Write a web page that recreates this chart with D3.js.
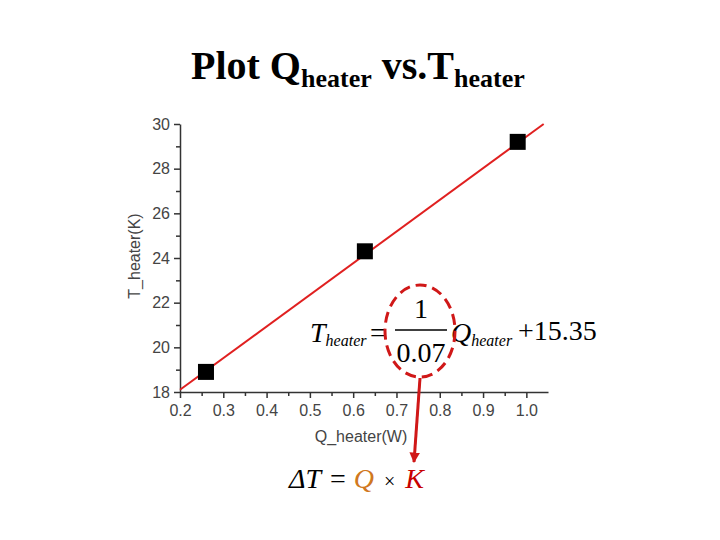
<!DOCTYPE html>
<html>
<head>
<meta charset="utf-8">
<script src="https://cdn.jsdelivr.net/npm/d3@7"></script>
<style>
  body { margin: 0; background: #fff; }
  svg { font-family: "Liberation Serif", "Times New Roman", serif; }
</style>
</head>
<body>
<svg class="myChart" width="720" height="540"></svg>
<script>
// data
const qHeater = [0.26, 0.627, 0.98];
const tHeater = [18.9, 24.3, 29.2];
const fitLineQ = [0.2, 1.04];
const fitLineT = [18.1, 30.0];
const xMajorTicks = [0.2, 0.3, 0.4, 0.5, 0.6, 0.7, 0.8, 0.9, 1.0];
const yMajorTicks = [18, 20, 22, 24, 26, 28, 30];

const svg = d3.select(".myChart");

const x = d3.scaleLinear().domain([0.2, 1.05]).range([180, 548]);
const y = d3.scaleLinear().domain([18, 30]).range([392, 124]);

// title
const title = svg.append("text")
    .attr("x", 191).attr("y", 79)
    .style("font-family", '"Liberation Serif", serif')
    .attr("font-weight", "bold").attr("font-size", 40);
title.append("tspan").text("Plot Q");
title.append("tspan").attr("font-size", 26).attr("dy", 8).text("heater");
title.append("tspan").attr("dy", -8).attr("dx", 10).text("vs.T");
title.append("tspan").attr("font-size", 26).attr("dy", 8).text("heater");

// axes
const axisFont = '"Liberation Sans", Arial, sans-serif';
const xAxis = svg.append("g")
    .attr("transform", "translate(0,392)")
    .call(d3.axisBottom(x).tickValues(xMajorTicks).tickFormat(d3.format(".1f")).tickSize(6).tickSizeOuter(0));
svg.append("g")
    .attr("transform", "translate(0,392)")
    .call(d3.axisBottom(x).tickValues(d3.range(0.25, 1.05, 0.1)).tickFormat("").tickSize(4).tickSizeOuter(0))
    .select(".domain").remove();

const yAxis = svg.append("g")
    .attr("transform", "translate(180,0)")
    .call(d3.axisLeft(y).tickValues(yMajorTicks).tickSize(6).tickSizeOuter(0));
svg.append("g")
    .attr("transform", "translate(180,0)")
    .call(d3.axisLeft(y).tickValues(d3.range(19, 30, 2)).tickFormat("").tickSize(4).tickSizeOuter(0))
    .select(".domain").remove();

svg.selectAll(".tick line, .domain").attr("stroke", "#333").attr("stroke-width", 1.5);
svg.selectAll(".tick text")
    .style("font-family", axisFont).style("font-size", "16px").attr("fill", "#444");
xAxis.selectAll(".tick text").attr("dy", "0.95em");
yAxis.selectAll(".tick text").attr("dx", "-1px");

svg.append("text")
    .attr("x", 361).attr("y", 442)
    .attr("text-anchor", "middle")
    .style("font-family", axisFont).style("font-size", "16px").attr("fill", "#444")
    .text("Q_heater(W)");
svg.append("text")
    .attr("transform", "translate(140,256) rotate(-90)")
    .attr("text-anchor", "middle")
    .style("font-family", axisFont).style("font-size", "16px").attr("fill", "#444")
    .text("T_heater(K)");

// fit line
svg.append("path")
    .datum(d3.zip(fitLineQ, fitLineT))
    .attr("fill", "none")
    .attr("stroke", "#e02020")
    .attr("stroke-width", 2)
    .attr("d", d3.line().x(d => x(d[0])).y(d => y(d[1])));

// data points
svg.selectAll(".pt")
    .data(d3.zip(qHeater, tHeater))
    .join("rect")
    .attr("class", "pt")
    .attr("x", d => x(d[0]) - 8)
    .attr("y", d => y(d[1]) - 8)
    .attr("width", 16).attr("height", 16)
    .attr("fill", "#000");

// equation of the fit
const eq = svg.append("g").attr("font-size", 28);
const tLabel = eq.append("text").attr("x", 310).attr("y", 342).attr("font-style", "italic");
tLabel.append("tspan").text("T");
tLabel.append("tspan").attr("font-size", 16).attr("dy", 4).text("heater");
eq.append("text").attr("x", 370).attr("y", 342).text("=");
eq.append("text").attr("x", 421).attr("y", 318).attr("text-anchor", "middle").text("1");
eq.append("line").attr("x1", 395).attr("x2", 447).attr("y1", 330).attr("y2", 330)
    .attr("stroke", "#000").attr("stroke-width", 1.5);
eq.append("text").attr("x", 421).attr("y", 362).attr("text-anchor", "middle").text("0.07");
const qLabel = eq.append("text").attr("x", 451).attr("y", 342).attr("font-style", "italic");
qLabel.append("tspan").text("Q");
qLabel.append("tspan").attr("font-size", 16).attr("dy", 4).text("heater");
eq.append("text").attr("x", 518).attr("y", 340).text("+15.35");

// dashed ellipse and arrow
svg.append("ellipse")
    .attr("cx", 420).attr("cy", 331).attr("rx", 35).attr("ry", 46)
    .attr("fill", "none").attr("stroke", "#d01818")
    .attr("stroke-width", 3).attr("stroke-dasharray", "11,6");

svg.append("defs").append("marker")
    .attr("id", "arrowHead")
    .attr("viewBox", "0 0 10 10")
    .attr("refX", 9).attr("refY", 5)
    .attr("markerWidth", 3.5).attr("markerHeight", 3.5)
    .attr("orient", "auto")
    .append("path").attr("d", "M0,0 L10,5 L0,10 z").attr("fill", "#d01818");
svg.append("line")
    .attr("x1", 420).attr("y1", 378).attr("x2", 414).attr("y2", 462)
    .attr("stroke", "#d01818").attr("stroke-width", 3)
    .attr("marker-end", "url(#arrowHead)");

// delta T = Q x K
const bottom = svg.append("text").attr("x", 289).attr("y", 488).attr("font-size", 28).attr("font-style", "italic");
bottom.append("tspan").text("ΔT");
bottom.append("tspan").attr("font-style", "normal").attr("dx", 9).text("=");
bottom.append("tspan").attr("fill", "#d07820").attr("dx", 8).text("Q");
bottom.append("tspan").attr("font-style", "normal").attr("font-size", 20).attr("dx", 10).text("×");
bottom.append("tspan").attr("fill", "#c80000").attr("dx", 10).text("K");
</script>
</body>
</html>
